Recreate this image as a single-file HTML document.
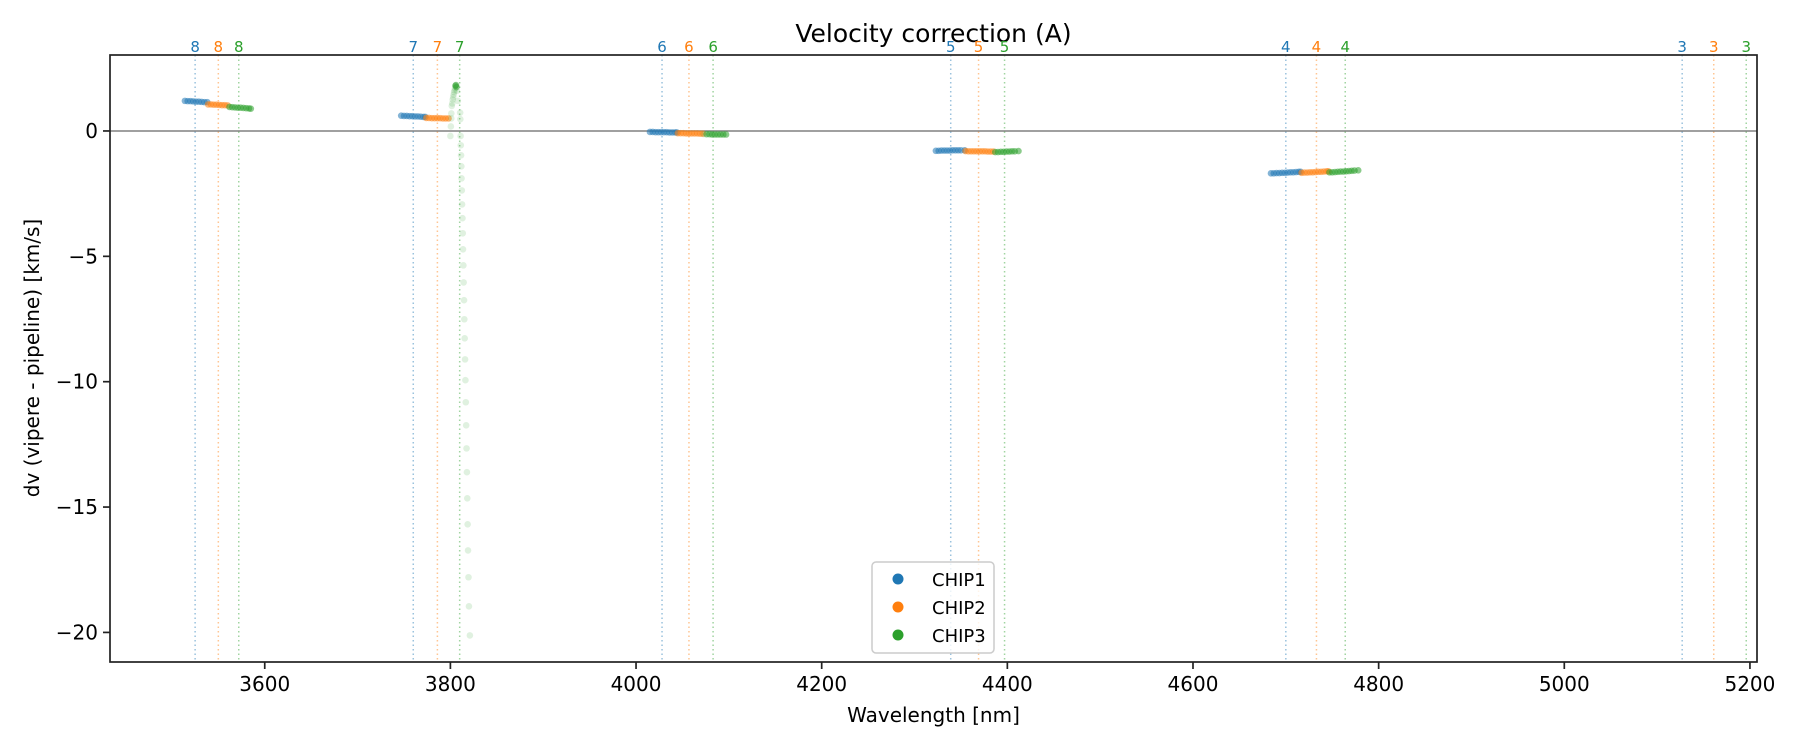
<!DOCTYPE html>
<html>
<head>
<meta charset="utf-8">
<style>
html,body{margin:0;padding:0;background:#fff;}
svg{display:block;font-family:"DejaVu Sans","Liberation Sans",sans-serif;}
</style>
</head>
<body>
<svg id="chart" width="1800" height="750" xmlns="http://www.w3.org/2000/svg">
  <text x="933.5" y="42" font-size="25" text-anchor="middle" fill="#000">Velocity correction (A)</text>
  <g id="plot"></g>
  <text x="933.5" y="722" font-size="20" text-anchor="middle" fill="#000">Wavelength [nm]</text>
  <text transform="translate(39,358) rotate(-90)" font-size="20" text-anchor="middle" fill="#000">dv (vipere - pipeline) [km/s]</text>
  <g>
    <rect x="872" y="562" width="122" height="91" rx="4" fill="#fff" fill-opacity="0.8" stroke="#ccc" stroke-width="1.5"/>
    <g>
      <circle cx="898" cy="579" r="5.5" fill="#1f77b4"/>
      <text x="932" y="586" font-size="18" fill="#000">CHIP1</text>
    </g>
    <g>
      <circle cx="898" cy="607" r="5.5" fill="#ff7f0e"/>
      <text x="932" y="614" font-size="18" fill="#000">CHIP2</text>
    </g>
    <g>
      <circle cx="898" cy="635" r="5.5" fill="#2ca02c"/>
      <text x="932" y="642" font-size="18" fill="#000">CHIP3</text>
    </g>
  </g>
</svg>
<script>
// ---- data ----
const xTicks = [3600, 3800, 4000, 4200, 4400, 4600, 4800, 5000, 5200];
const yTicks = [0, -5, -10, -15, -20];
const orders = [8, 7, 6, 5, 4, 3];
const chip1OrderCenters = [3525, 3760, 4028, 4339, 4700, 5127];
const chip2OrderCenters = [3550, 3786, 4057, 4369, 4733, 5161];
const chip3OrderCenters = [3572, 3810, 4083, 4397, 4764, 5196];

const chip1Wave = [3514,3517,3520,3523,3526,3529,3532,3535,3538,
  3747,3750,3753,3756,3759,3762,3765,3768,3771,3773,
  4015,4018,4021,4024,4027,4030,4033,4036,4039,4042,4044,
  4323,4326,4329,4332,4335,4338,4341,4344,4347,4350,4354,
  4684,4687,4690,4693,4696,4699,4702,4705,4708,4711,4714,4716];
const chip1Val = [1.20,1.19,1.19,1.18,1.17,1.17,1.16,1.15,1.15,
  0.61,0.60,0.60,0.59,0.59,0.58,0.58,0.57,0.56,0.56,
  -0.04,-0.04,-0.05,-0.05,-0.05,-0.05,-0.05,-0.06,-0.06,-0.06,-0.06,
  -0.79,-0.79,-0.78,-0.78,-0.78,-0.78,-0.77,-0.77,-0.77,-0.77,-0.77,
  -1.69,-1.69,-1.68,-1.68,-1.67,-1.67,-1.66,-1.65,-1.65,-1.64,-1.63,-1.63];

const chip2Wave = [3539,3542,3545,3548,3551,3554,3557,3560,
  3774,3777,3780,3783,3786,3789,3792,3795,3798,
  4045,4048,4051,4054,4057,4060,4063,4066,4069,4072,
  4355,4358,4361,4364,4367,4370,4373,4376,4379,4382,4385,
  4717,4720,4723,4726,4729,4732,4735,4738,4741,4744,4746];
const chip2Val = [1.06,1.06,1.05,1.05,1.04,1.03,1.03,1.02,
  0.52,0.52,0.51,0.51,0.51,0.51,0.50,0.50,0.50,
  -0.09,-0.09,-0.09,-0.10,-0.10,-0.10,-0.10,-0.10,-0.11,-0.11,
  -0.80,-0.81,-0.81,-0.81,-0.81,-0.81,-0.81,-0.81,-0.82,-0.82,-0.82,
  -1.67,-1.66,-1.66,-1.65,-1.65,-1.64,-1.63,-1.63,-1.62,-1.61,-1.61];

const chip3Wave = [3562,3565,3568,3571,3574,3577,3580,3583,3585,
  3800,3800.5,3801,3801,3801.5,3802,3802.5,3803,3803.5,3804,3804.5,3805,3805.5,3806,3806.5,3807,3808,
  3810.5,3810.7,3811,3811.2,3811.5,3811.8,3812,3812.3,3812.6,3813,3813.3,3813.6,3814,3814.3,3814.7,3815,3815.4,3815.8,3816.2,3816.6,3817,3817.4,3817.8,3818.2,3818.6,3819,3819.5,3820,3821,
  4073,4076,4079,4082,4085,4088,4091,4094,4097,
  4387,4390,4393,4396,4399,4402,4405,4408,4412,
  4747,4750,4753,4756,4759,4762,4765,4768,4771,4774,4778];
const chip3Val = [0.96,0.95,0.94,0.93,0.93,0.92,0.91,0.90,0.89,
  -0.20,0.18,0.50,0.70,1.00,1.10,1.25,1.35,1.45,1.55,1.62,1.70,1.80,1.83,1.75,1.60,1.20,
  0.73,0.47,-0.20,-0.57,-0.97,-1.41,-1.89,-2.37,-2.93,-3.48,-4.08,-4.72,-5.36,-6.04,-6.75,-7.51,-8.27,-9.11,-9.94,-10.82,-11.74,-12.66,-13.61,-14.65,-15.69,-16.73,-17.80,-18.96,-20.12,
  -0.13,-0.13,-0.13,-0.14,-0.14,-0.14,-0.14,-0.14,-0.14,
  -0.84,-0.84,-0.83,-0.83,-0.82,-0.82,-0.81,-0.81,-0.80,
  -1.65,-1.65,-1.64,-1.63,-1.62,-1.62,-1.61,-1.60,-1.59,-1.58,-1.57];
// chip3 points of order 7 outlier region drawn fainter
const chip3FaintFrom = 9, chip3FaintTo = 55;

// ---- axes ----
const L = 110, R = 1757, T = 55, B = 662;
const xMin = 3433.3, xMax = 5207.6, yMin = -21.18, yMax = 3.03;
const xs = v => L + (v - xMin) / (xMax - xMin) * (R - L);
const ys = v => T + (yMax - v) / (yMax - yMin) * (B - T);
const colors = ['#1f77b4', '#ff7f0e', '#2ca02c'];
const NS = 'http://www.w3.org/2000/svg';
const plot = document.getElementById('plot');
function mk(tag, attrs, parent) {
  const e = document.createElementNS(NS, tag);
  for (const k in attrs) e.setAttribute(k, attrs[k]);
  (parent || plot).appendChild(e);
  return e;
}

// order lines
const centerSets = [chip1OrderCenters, chip2OrderCenters, chip3OrderCenters];
centerSets.forEach((set, ci) => {
  set.forEach((c, oi) => {
    const ln = mk('line', {x1: xs(c), x2: xs(c), y1: T, y2: B, stroke: colors[ci], 'stroke-width': 1.5, 'stroke-dasharray': '1.5,3', 'stroke-opacity': 0.45});
    
    
    const tx = mk('text', {x: xs(c), y: 52, 'font-size': 15, 'text-anchor': 'middle', fill: colors[ci]});
    tx.textContent = orders[oi];
    
    
  });
});

// zero line
const zl = mk('line', {x1: L, x2: R, y1: ys(0), y2: ys(0), stroke: '#808080', 'stroke-width': 1.5});



// points
function drawSeries(wave, val, ci, faintFrom, faintTo) {
  const g = mk('g', {});
  
  
  for (let i = 0; i < wave.length; i++) {
    const faint = faintFrom !== undefined && i >= faintFrom && i <= faintTo;
    const strong = faint && val[i] > 1.7;
    const c = mk('circle', {cx: xs(wave[i]), cy: ys(val[i]), r: 3.3, fill: colors[ci], 'fill-opacity': strong ? 0.5 : (faint ? 0.15 : 0.55)}, g);
    
    
  }
}
drawSeries(chip1Wave, chip1Val, 0);
drawSeries(chip2Wave, chip2Val, 1);
drawSeries(chip3Wave, chip3Val, 2, chip3FaintFrom, chip3FaintTo);

// frame
const fr = mk('rect', {x: L, y: T, width: R - L, height: B - T, fill: 'none', stroke: '#222', 'stroke-width': 1.7});



// ticks
xTicks.forEach(t => {
  const tk = mk('line', {x1: xs(t), x2: xs(t), y1: B, y2: B + 7, stroke: '#222', 'stroke-width': 1.7});
  
  
  const tx = mk('text', {x: xs(t), y: B + 29, 'font-size': 20, 'text-anchor': 'middle', fill: '#000'});
  tx.textContent = t;
  
  
});
yTicks.forEach(t => {
  const tk = mk('line', {x1: L - 7, x2: L, y1: ys(t), y2: ys(t), stroke: '#222', 'stroke-width': 1.7});
  
  
  const tx = mk('text', {x: L - 12, y: ys(t) + 7, 'font-size': 20, 'text-anchor': 'end', fill: '#000'});
  tx.textContent = t < 0 ? '\u2212' + Math.abs(t) : String(t);
  
  
});
</script>
</body>
</html>
